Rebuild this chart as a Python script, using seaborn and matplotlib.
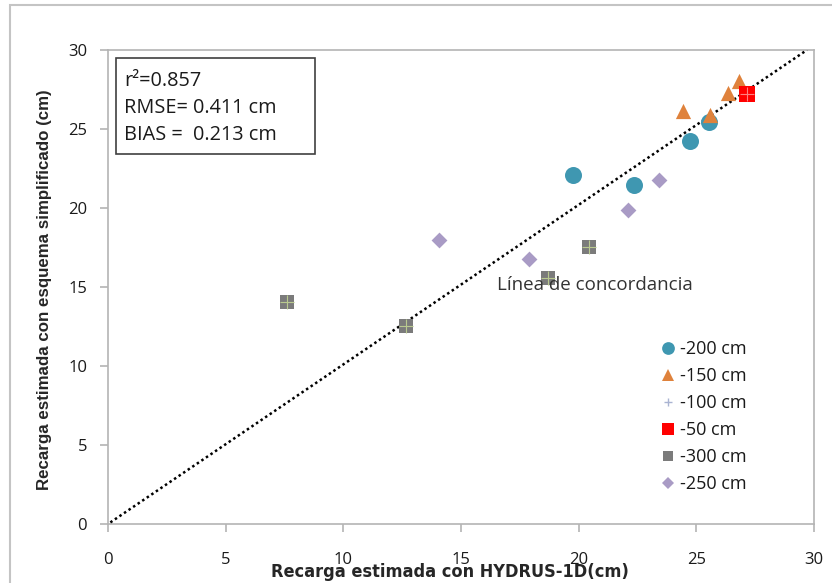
import numpy as np
import pandas as pd
import seaborn as sns
import matplotlib.pyplot as plt
from matplotlib.patches import Rectangle
from matplotlib.lines import Line2D


# values
x_200 = [19.76, 22.35, 24.73, 25.54]
y_200 = [22.09, 21.46, 24.24, 25.44]
x_150 = [24.44, 25.60, 26.35, 26.82]
y_150 = [26.14, 25.90, 27.28, 28.04]
x_100 = []
y_100 = []
x_50 = [27.16]
y_50 = [27.20]
x_300 = [7.60, 12.66, 18.70, 20.44]
y_300 = [14.05, 12.53, 15.60, 17.53]
x_250 = [14.07, 17.90, 22.10, 23.40]
y_250 = [17.97, 16.77, 19.90, 21.77]

series = ['-200 cm', '-150 cm', '-100 cm', '-50 cm', '-300 cm', '-250 cm']
line_x = [0.1, 29.7]
line_y = [0.1, 30.0]
ticks = [0, 5, 10, 15, 20, 25, 30]

stats = ['r\u00b2=0.857', 'RMSE= 0.411 cm', 'BIAS =  0.213 cm']

df = pd.concat([
    pd.DataFrame({'x': x_200, 'y': y_200, 'serie': '-200 cm'}),
    pd.DataFrame({'x': x_150, 'y': y_150, 'serie': '-150 cm'}),
    pd.DataFrame({'x': x_100, 'y': y_100, 'serie': '-100 cm'}),
    pd.DataFrame({'x': x_50, 'y': y_50, 'serie': '-50 cm'}),
    pd.DataFrame({'x': x_300, 'y': y_300, 'serie': '-300 cm'}),
    pd.DataFrame({'x': x_250, 'y': y_250, 'serie': '-250 cm'}),
], ignore_index=True)

colors = {'-200 cm': '#3f97b1', '-150 cm': '#df823c', '-100 cm': '#aab4d2',
          '-50 cm': '#ff0000', '-300 cm': '#7b7b7b', '-250 cm': '#a99bc5'}
markers = {'-200 cm': 'o', '-150 cm': '^', '-100 cm': '+', '-50 cm': 's',
           '-300 cm': 's', '-250 cm': 'D'}
sizes = {'-200 cm': 150, '-150 cm': 120, '-100 cm': 60, '-50 cm': 125,
         '-300 cm': 105, '-250 cm': 65}

sns.set_style('white')
plt.rcParams['font.family'] = ['Open Sans', 'DejaVu Sans']

fig = plt.figure(figsize=(8.32, 5.83), dpi=100)
ax = fig.add_axes([108 / 832, 59 / 583, 706 / 832, 474 / 583])

# 1:1 line
ax.plot(line_x, line_y, color='black', lw=1.8, ls=(0, (1, 1.2)), zorder=3)

for s in series:
    d = df[df['serie'] == s]
    if len(d) == 0:
        continue
    lw = 1 if markers[s] == '+' else 0
    sns.scatterplot(data=d, x='x', y='y', color=colors[s], marker=markers[s],
                    s=sizes[s], linewidth=lw, ax=ax, zorder=4, legend=False)
    if s in ('-300 cm', '-50 cm'):
        cross = '#b9c98f' if s == '-300 cm' else '#ff8080'
        ax.scatter(d['x'], d['y'], marker='+', s=sizes[s] * 0.9, color=cross,
                   linewidths=0.8, zorder=5)

ax.set_xlim(0, 30)
ax.set_ylim(0, 30)
ax.set_xticks(ticks)
ax.set_yticks(ticks)
ax.set_xlabel('')
ax.set_ylabel('')
for sp in ax.spines.values():
    sp.set_color('#b4b4b4')
    sp.set_linewidth(1.2)
ax.tick_params(axis='both', direction='out', length=6, width=1.2,
               color='#b4b4b4', labelsize=12, labelcolor='#1a1a1a')
ax.tick_params(axis='x', pad=14)
ax.tick_params(axis='y', pad=9)
ax.tick_params(bottom=True, left=True)

# stats box
ax.add_patch(Rectangle((0.0113, 0.7806), 0.2819, 0.2024, transform=ax.transAxes,
                       fill=False, edgecolor='#404040', lw=1.2, zorder=6))
for txt, yy in zip(stats, [0.935, 0.877, 0.820]):
    ax.text(0.0227, yy, txt, transform=ax.transAxes, fontsize=14.3,
            color='#1a1a1a', va='center', ha='left', zorder=7)

ax.text(16.53, 15.13, 'L\u00ednea de concordancia', fontsize=13.5,
        color='#333333', va='center', ha='left', zorder=7)

handles = []
for s in series:
    handles.append(Line2D([], [], ls='none', marker=markers[s], color=colors[s],
                          markersize=np.sqrt(sizes[s]) * 0.75,
                          markeredgewidth=1 if markers[s] == '+' else 0))
leg = ax.legend(handles, series, loc='upper left', frameon=False,
                bbox_to_anchor=((652 - 108) / 706, (524 - 333) / 474),
                prop={'size': 13}, handletextpad=0.15, handlelength=1.0,
                labelspacing=0.5, borderaxespad=0)
for t in leg.get_texts():
    t.set_color('#1a1a1a')

fig.text(45 / 832, 1 - 290 / 583, 'Recarga estimada con esquema simplificado (cm)',
         rotation=90, ha='center', va='center', fontsize=12.2, fontweight='bold',
         family=['Liberation Sans', 'DejaVu Sans'])
fig.text(450 / 832, 1 - 572 / 583, 'Recarga estimada con HYDRUS-1D(cm)',
         ha='center', va='center', fontsize=13, fontweight='bold',
         fontstretch='condensed', family=['DejaVu Sans'])

# outer chart border
fig.add_artist(Rectangle((10 / 832, -0.2), 1.2, 1.2 - 5 / 583,
                         transform=fig.transFigure, fill=False,
                         edgecolor='#c4c4c4', lw=1.5))

fig.savefig('out.png', dpi=100)
